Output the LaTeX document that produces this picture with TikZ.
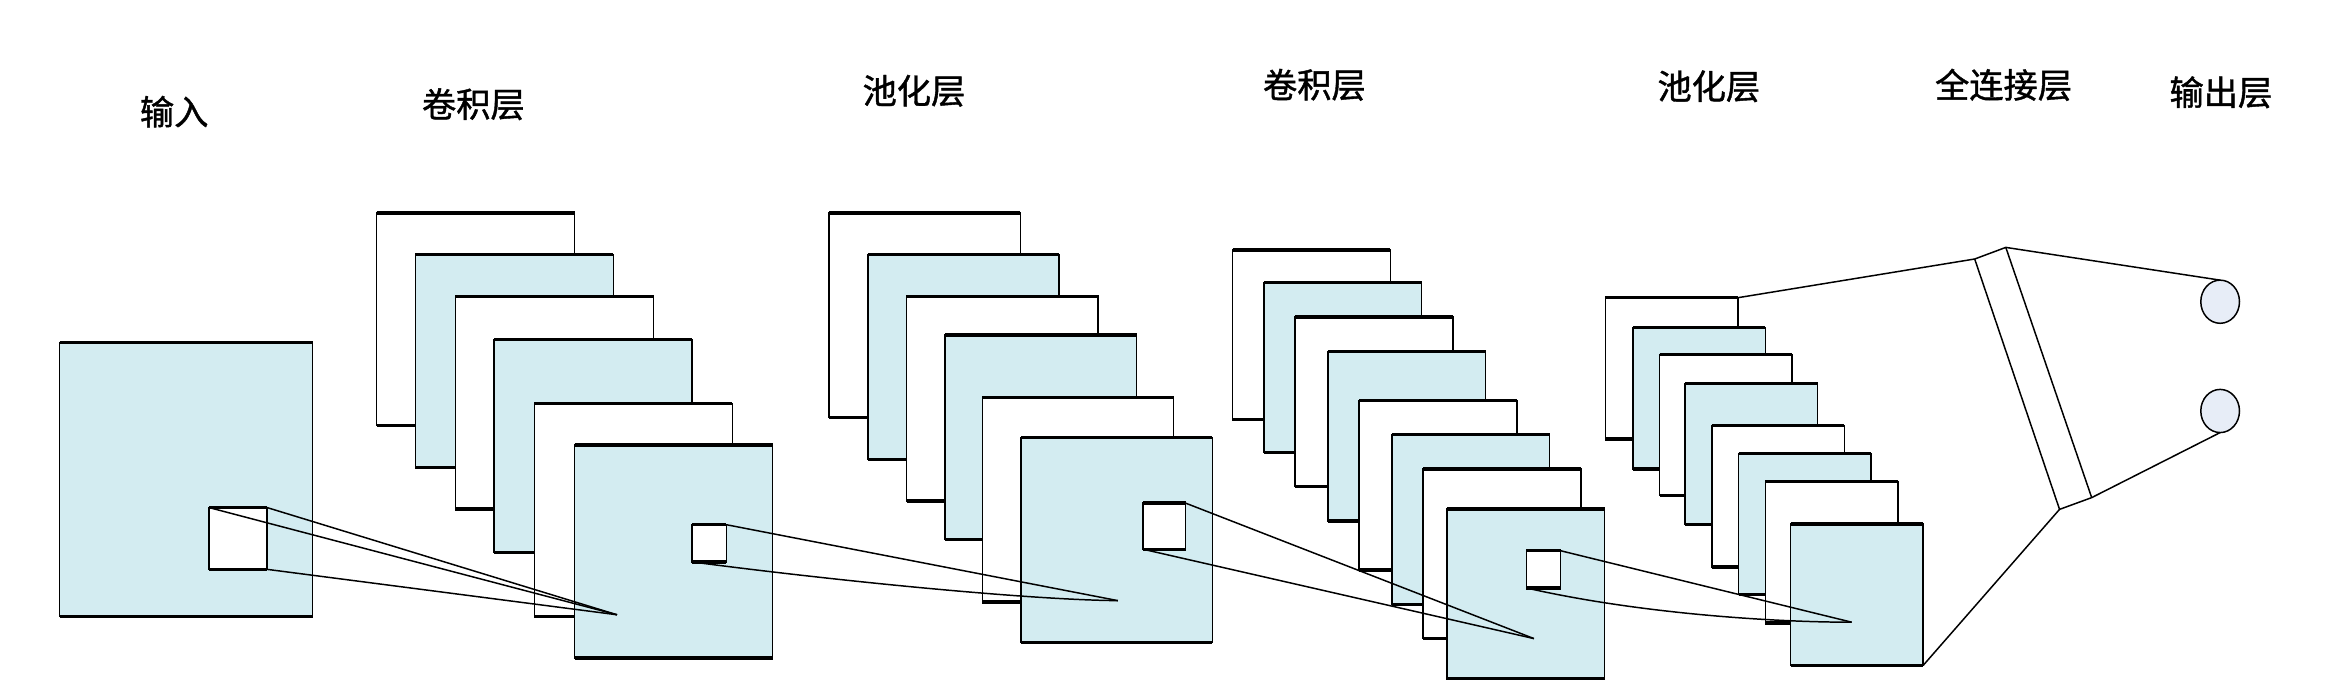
\documentclass[tikz,border=0pt]{standalone}
\usepackage{fontspec}
\newfontfamily\cjk[AutoFakeBold=1.2]{Noto Sans CJK SC}
\usetikzlibrary{shapes.geometric}
\definecolor{mapblue}{RGB}{211,236,241}
\definecolor{outfill}{RGB}{231,237,247}
\tikzset{
  fmap/.style={draw=black, line width=1pt, inner sep=0pt, outer sep=0pt, anchor=north west},
  rim/.style={line width=2.2pt},
  link/.style={draw=black, line width=1pt},
  lbl/.style={font=\cjk\bfseries\fontsize{23}{23}\selectfont, inner sep=0pt},
  outnode/.style={ellipse, draw=black, line width=1pt, fill=outfill, minimum width=26pt, minimum height=29pt, inner sep=0pt, outer sep=0pt}
}
\newcommand\fmapbox[6]{%
  \node[fmap, fill=#6, minimum width=#4pt, minimum height=#5pt] (#1) at (#2,#3) {};
  \draw[rim] (#1.north west) -- (#1.north east) (#1.south west) -- (#1.south east);
}
\begin{document}
\begin{tikzpicture}[x=1pt,y=-1pt]
\useasboundingbox (0,0) rectangle (1568,466);

% labels
\node[lbl] (t1) at (117,75) {输入};
\node[lbl] (t2) at (318,70) {卷积层};
\node[lbl] (t3) at (614,61) {池化层};
\node[lbl] (t4) at (883,57) {卷积层};
\node[lbl] (t5) at (1148,58) {池化层};
\node[lbl] (t6) at (1346,57) {全连接层};
\node[lbl] (t7) at (1492,62) {输出层};

% input
\fmapbox{in}{40}{230}{170}{184}{mapblue}
\fmapbox{ink}{140.5}{341}{39}{41.5}{white}

% conv 1
\fmapbox{ca1}{253}{143}{133}{143}{white}
\fmapbox{ca2}{279}{171}{133}{143}{mapblue}
\fmapbox{ca3}{306}{199}{133}{143}{white}
\fmapbox{ca4}{332}{228}{133}{143}{mapblue}
\fmapbox{ca5}{359}{271}{133}{143}{white}
\fmapbox{ca6}{386}{299}{133}{143}{mapblue}
\fmapbox{cak}{465}{352.5}{23}{25}{white}

% pool 1
\fmapbox{pa1}{557}{143}{128.5}{137.5}{white}
\fmapbox{pa2}{583}{171}{128.5}{137.5}{mapblue}
\fmapbox{pa3}{609}{199}{128.5}{137.5}{white}
\fmapbox{pa4}{635}{225}{128.5}{137.5}{mapblue}
\fmapbox{pa5}{660}{267}{128.5}{137.5}{white}
\fmapbox{pa6}{686}{294}{128.5}{137.5}{mapblue}
\fmapbox{pak}{768}{338}{28.5}{31}{white}

% conv 2
\fmapbox{cb1}{828}{168}{106}{114}{white}
\fmapbox{cb2}{849}{190}{106}{114}{mapblue}
\fmapbox{cb3}{870}{213}{106}{114}{white}
\fmapbox{cb4}{892}{236}{106}{114}{mapblue}
\fmapbox{cb5}{913}{269}{106}{114}{white}
\fmapbox{cb6}{935}{292}{106}{114}{mapblue}
\fmapbox{cb7}{956}{315}{106}{114}{white}
\fmapbox{cb8}{972}{342}{106}{114}{mapblue}
\fmapbox{cbk}{1025.5}{370}{23}{25}{white}

% pool 2
\fmapbox{pb1}{1078.5}{200}{89}{95}{white}
\fmapbox{pb2}{1097}{220}{89}{95}{mapblue}
\fmapbox{pb3}{1115}{238}{89}{95}{white}
\fmapbox{pb4}{1132}{257.5}{89}{95}{mapblue}
\fmapbox{pb5}{1150}{286}{89}{95}{white}
\fmapbox{pb6}{1168}{304.5}{89}{95}{mapblue}
\fmapbox{pb7}{1186}{323.5}{89}{95}{white}
\fmapbox{pb8}{1203}{352}{89}{95}{mapblue}

% apex points
\coordinate (a1) at (414.5,413);
\coordinate (a2) at (751,403.5);
\coordinate (a3) at (1030.5,429);
\coordinate (a4) at (1244,418);

% receptive field links
\draw[link] (ink.north west) -- (a1);
\draw[link] (ink.north east) -- (a1);
\draw[link] (ink.south east) -- (a1);

\draw[link] (cak.north east) -- (a2);
\draw[link] (cak.south west) .. controls (560,390) and (690,403) .. (a2);

\draw[link] (pak.north east) -- (a3);
\draw[link] (pak.south west) -- (a3);

\draw[link] (cbk.north east) -- (a4);
\draw[link] (cbk.south west) .. controls (1100,412) and (1190,418) .. (a4);

% fully connected
\coordinate (p1) at (1326.6,174);
\coordinate (p2) at (1347.5,166.2);
\coordinate (p3) at (1383.6,342.2);
\coordinate (p4) at (1405.2,334.3);
\node[outnode] (o1) at (1491.5,202.7) {};
\node[outnode] (o2) at (1491.5,276.1) {};

\draw[link] (pb1.north east) -- (p1) -- (p2) -- (o1.north);
\draw[link] (p1) -- (p3);
\draw[link] (p2) -- (p4);
\draw[link] (pb8.south east) -- (p3) -- (p4) -- (o2.south);
\end{tikzpicture}
\end{document}
